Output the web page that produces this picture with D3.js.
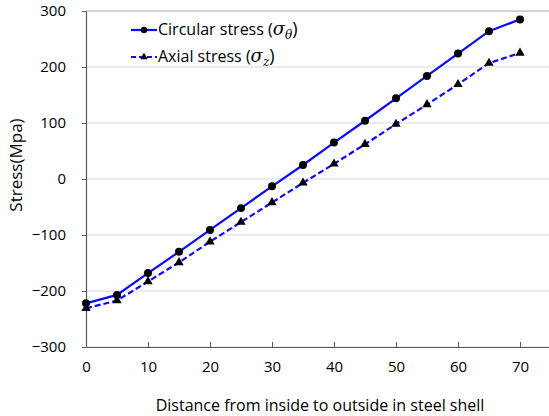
<!DOCTYPE html>
<html>
<head>
<meta charset="utf-8">
<script src="https://cdn.jsdelivr.net/npm/d3@7"></script>
<style>
  body { margin: 0; background: #fff; }
  text { font-family: "Open Sans", sans-serif; fill: #000; }
</style>
</head>
<body>
<svg id="chart" width="549" height="416"></svg>
<script>
const distance = [0, 5, 10, 15, 20, 25, 30, 35, 40, 45, 50, 55, 60, 65, 70];
const circularStress = [-222, -207, -168, -130, -91, -52, -13, 25, 65, 104, 144, 184, 224, 264, 285];
const axialStress = [-231, -217, -183, -149, -112, -77, -42, -7, 27, 62, 98, 133, 169, 207, 225];
const xTicks = [0, 10, 20, 30, 40, 50, 60, 70];
const yTicks = [-300, -200, -100, 0, 100, 200, 300];

const svg = d3.select("#chart");

let scaleX = d3.scaleLinear().domain([0, 75]).range([86, 551]);
let scaleY = d3.scaleLinear().domain([-300, 300]).range([347, 11]);

// grid
yTicks.forEach(v => {
    svg.append("line")
        .attr("x1", scaleX(0)).attr("x2", 549)
        .attr("y1", scaleY(v)).attr("y2", scaleY(v))
        .attr("stroke", v === 300 ? "#a6a6a6" : "#d9d9d9")
        .attr("stroke-width", 1);
});

// axes
let xAxis = d3.axisBottom(scaleX).tickValues(xTicks).tickSizeInner(-5).tickSizeOuter(0).tickPadding(14);
let gx = svg.append("g").attr("transform", `translate(0,${scaleY(-300)})`).call(xAxis);
gx.select(".domain").attr("stroke", "#595959").attr("stroke-width", 1.2);
gx.selectAll(".tick line").attr("stroke", "#595959");
gx.selectAll("text").attr("font-size", "15px").attr("fill", "#000").attr("font-family", "Open Sans");

let yAxis = d3.axisLeft(scaleY).tickValues(yTicks).tickSizeInner(4).tickSizeOuter(0).tickPadding(16);
let gy = svg.append("g").attr("transform", `translate(${scaleX(0)},0)`).call(yAxis);
gy.select(".domain").attr("stroke", "#595959").attr("stroke-width", 1.2);
gy.selectAll(".tick line").attr("stroke", "#595959");
gy.selectAll("text").attr("font-size", "15px").attr("fill", "#000").attr("font-family", "Open Sans");

// axis titles
svg.append("text")
    .attr("x", 320).attr("y", 411)
    .attr("text-anchor", "middle")
    .attr("font-size", "16px")
    .text("Distance from inside to outside in steel shell");

svg.append("text")
    .attr("transform", "translate(22,165) rotate(-90)")
    .attr("text-anchor", "middle")
    .attr("font-size", "17px")
    .text("Stress(Mpa)");

// lines
let line = d3.line()
    .x((d, i) => scaleX(distance[i]))
    .y(d => scaleY(d));

svg.append("path")
    .datum(circularStress)
    .attr("fill", "none")
    .attr("stroke", "#0a0aff")
    .attr("stroke-width", 2.2)
    .attr("d", line);

svg.append("path")
    .datum(axialStress)
    .attr("fill", "none")
    .attr("stroke", "#0a0aff")
    .attr("stroke-width", 2.2)
    .attr("stroke-dasharray", "6,3")
    .attr("d", line);

// markers
let circleSym = d3.symbol().type(d3.symbolCircle).size(50);
let triSym = d3.symbol().type(d3.symbolTriangle).size(38);

circularStress.forEach((v, i) => {
    svg.append("path")
        .attr("d", circleSym())
        .attr("transform", `translate(${scaleX(distance[i])},${scaleY(v)})`)
        .attr("fill", "#000");
});
axialStress.forEach((v, i) => {
    svg.append("path")
        .attr("d", triSym())
        .attr("transform", `translate(${scaleX(distance[i])},${scaleY(v)})`)
        .attr("fill", "#000");
});

// legend
const legend = [
    { label: "Circular stress (", sub: "θ", dash: null, sym: circleSym, y: 30 },
    { label: "Axial stress (", sub: "z", dash: "5,3", sym: triSym, y: 57 }
];
legend.forEach(d => {
    svg.append("line")
        .attr("x1", 131).attr("x2", 157)
        .attr("y1", d.y).attr("y2", d.y)
        .attr("stroke", "#0a0aff").attr("stroke-width", 2.2)
        .attr("stroke-dasharray", d.dash);
    svg.append("path")
        .attr("d", d.sym())
        .attr("transform", `translate(144,${d.y}) scale(0.8)`)
        .attr("fill", "#000");
    let t = svg.append("text")
        .attr("x", 158).attr("y", d.y + 5)
        .attr("font-size", "16px");
    t.append("tspan").text(d.label);
    t.append("tspan").attr("font-family", "DejaVu Serif").attr("font-style", "italic")
        .attr("font-size", "18px").text("σ");
    t.append("tspan").attr("font-family", "DejaVu Serif").attr("font-style", "italic")
        .attr("font-size", "12px").attr("dy", 4).text(d.sub);
    t.append("tspan").attr("dy", -4).attr("font-size", "18px").text(")");
});
</script>
</body>
</html>
